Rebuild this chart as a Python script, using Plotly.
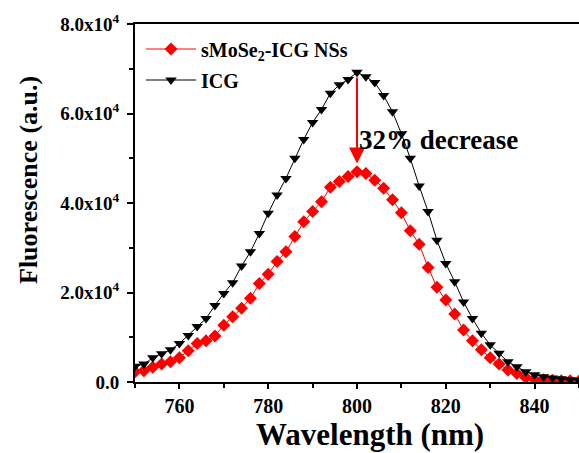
import plotly.graph_objects as go

# Emission wavelengths (nm), sampled every 2 nm
wavelength = list(range(750, 852, 2))

# Fluorescence intensity (a.u.) of free ICG
icg = [3500, 4000, 5400, 6300, 7200, 8600, 10400, 12400, 14200, 17100,
       19800, 22200, 25900, 29100, 33200, 37700, 41800, 45500, 50000, 54200,
       58000, 60900, 64500, 66400, 67600, 69200, 68200, 66900, 64000, 60400,
       55500, 50000, 43800, 38100, 31700, 26500, 22400, 17900, 14200, 10900,
       8300, 6400, 4500, 3400, 2300, 1600, 1200, 900, 700, 500, 400]

# Fluorescence intensity (a.u.) of sMoSe2-ICG nanosheets
smose2_icg = [2300, 2500, 3300, 4000, 4500, 5400, 7000, 8600, 9200, 10300,
              12700, 14600, 16500, 18700, 22000, 24100, 26900, 29100, 32500, 35800,
              38100, 40300, 43500, 44800, 45900, 47000, 46600, 45100, 43300, 40700,
              37800, 33800, 30800, 25600, 21200, 18300, 15200, 11600, 9200, 7200,
              5400, 4000, 2700, 1900, 1000, 600, 500, 400, 300, 300, 200]

y_tickvals = [0, 20000, 40000, 60000, 80000]
y_ticktext = ["0.0", "2.0x10<sup>4</sup>", "4.0x10<sup>4</sup>",
              "6.0x10<sup>4</sup>", "8.0x10<sup>4</sup>"]
x_tickvals = [760, 780, 800, 820, 840]

peak_idx = icg.index(max(icg))
peak_x = wavelength[peak_idx]

SERIF = "Liberation Serif"

W, H = 579, 453
L, R, T, B = 135, 0, 24, 71
pw, ph = W - L - R, H - T - B


def px_to_paper(px, py):
    """Pixel position on the page -> paper coordinates of the plot area."""
    return (px - L) / pw, (H - B - py) / ph


fig = go.Figure()
fig.add_trace(go.Scatter(
    x=wavelength, y=smose2_icg, mode="lines+markers",
    name="sMoSe<sub>2</sub>-ICG NSs",
    line=dict(color="#ff0000", width=1),
    marker=dict(symbol="diamond", size=10, color="#ff0000"),
    legend="legend", showlegend=True,
))
fig.add_trace(go.Scatter(
    x=wavelength, y=icg, mode="lines+markers",
    name="ICG",
    line=dict(color="black", width=1),
    marker=dict(symbol="triangle-down", size=10, color="black"),
    legend="legend2", showlegend=True,
))

# Arrow marking the drop between the two emission maxima
fig.add_annotation(
    x=peak_x, y=smose2_icg[peak_idx] + 1800, ax=peak_x, ay=icg[peak_idx] - 800,
    xref="x", yref="y", axref="x", ayref="y",
    showarrow=True, arrowhead=2, arrowsize=1.6, arrowwidth=2, arrowcolor="#ff0000",
    text="",
)
fig.add_annotation(
    x=peak_x, y=54000, xref="x", yref="y", xanchor="left", yanchor="middle",
    text="32% decrease", showarrow=False,
    font=dict(family=SERIF, size=27, color="black", weight="bold"),
)

# Axis titles
tx, ty = px_to_paper(370, 434)
fig.add_annotation(
    x=tx, y=ty, xref="paper", yref="paper", xanchor="center", yanchor="middle",
    text="Wavelength (nm)", showarrow=False,
    font=dict(family=SERIF, size=31, color="black", weight="bold"),
)
tx, ty = px_to_paper(28, 180)
fig.add_annotation(
    x=tx, y=ty, xref="paper", yref="paper", xanchor="center", yanchor="middle",
    text="Fluorescence (a.u.)", showarrow=False, textangle=-90,
    font=dict(family=SERIF, size=26, color="black", weight="bold"),
)

lx, ly1 = px_to_paper(141, 49)
_, ly2 = px_to_paper(141, 80)
legend_font = dict(family=SERIF, size=20, color="black", weight="bold")

fig.update_layout(
    width=W, height=H,
    margin=dict(l=L, r=R, t=T, b=B),
    paper_bgcolor="white", plot_bgcolor="white",
    font=dict(family=SERIF, color="black"),
    showlegend=True,
    legend=dict(x=lx, y=ly1, xanchor="left", yanchor="middle", itemwidth=50,
                bgcolor="rgba(0,0,0,0)", font=legend_font),
    legend2=dict(x=lx, y=ly2, xanchor="left", yanchor="middle", itemwidth=50,
                 bgcolor="rgba(0,0,0,0)", font=legend_font),
)
fig.update_xaxes(
    range=[750, 850], tickvals=x_tickvals, showgrid=False, zeroline=False,
    showline=True, linecolor="black", linewidth=2, mirror=True,
    ticks="outside", ticklen=5, tickwidth=2, tickcolor="black",
    minor=dict(dtick=10, tick0=750, ticks="outside", ticklen=4, tickwidth=2, tickcolor="black"),
    tickfont=dict(family=SERIF, size=20, color="black", weight="bold"),
)
fig.update_yaxes(
    range=[0, 80000], tickvals=y_tickvals, ticktext=y_ticktext, showgrid=False, zeroline=False,
    showline=True, linecolor="black", linewidth=2,
    ticks="outside", ticklen=6, tickwidth=2, tickcolor="black",
    minor=dict(dtick=10000, tick0=0, ticks="outside", ticklen=4, tickwidth=2, tickcolor="black"),
    tickfont=dict(family=SERIF, size=19, color="black", weight="bold"),
    ticklabelstandoff=4,
)

fig.write_html("out.html")
